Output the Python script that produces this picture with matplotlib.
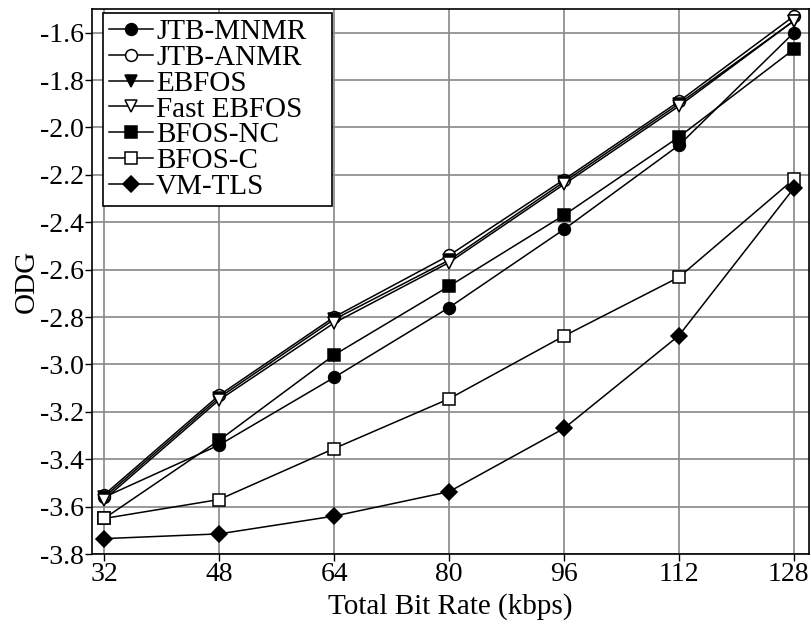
import matplotlib
matplotlib.use("Agg")
import matplotlib.pyplot as plt
import matplotlib.transforms as mtransforms
from matplotlib.patches import Rectangle

rates = [32, 48, 64, 80, 96, 112, 128]
jtb_mnmr = [-3.56, -3.34, -3.055, -2.76, -2.43, -2.075, -1.60]
jtb_anmr = [-3.55, -3.13, -2.80, -2.54, -2.22, -1.89, -1.53]
ebfos = [-3.56, -3.14, -2.81, -2.56, -2.23, -1.90, -1.55]
fast_ebfos = [-3.57, -3.15, -2.825, -2.57, -2.24, -1.91, -1.55]
bfos_nc = [-3.65, -3.32, -2.96, -2.67, -2.37, -2.04, -1.67]
bfos_c = [-3.65, -3.57, -3.355, -3.145, -2.88, -2.632, -2.218]
vm_tls = [-3.735, -3.715, -3.64, -3.537, -3.27, -2.878, -2.256]

plt.rcParams['font.family'] = ['Liberation Serif', 'DejaVu Serif']

fig = plt.figure(figsize=(8.11, 6.28), dpi=100)
ax = fig.add_axes([0.1134, 0.1178, 0.8841, 0.8679])

series = [
    (jtb_mnmr, 'o', 'black', 'JTB-MNMR'),
    (jtb_anmr, 'o', 'white', 'JTB-ANMR'),
    (ebfos, 'v', 'black', 'EBFOS'),
    (fast_ebfos, 'v', 'white', 'Fast EBFOS'),
    (bfos_nc, 's', 'black', 'BFOS-NC'),
    (bfos_c, 's', 'white', 'BFOS-C'),
    (vm_tls, 'D', 'black', 'VM-TLS'),
]
for vals, mk, fc, lab in series:
    ms = 8.5 if mk != 'D' else 8
    ax.plot(rates, vals, color='black', lw=1.1, marker=mk, ms=ms,
            mfc=fc, mec='black', mew=1.1, label=lab)

ax.set_xlim(30.3, 130.1)
ax.set_ylim(-3.8, -1.5)
ax.set_xticks(rates)
ax.set_yticks([-1.6, -1.8, -2.0, -2.2, -2.4, -2.6, -2.8, -3.0, -3.2, -3.4, -3.6, -3.8])
ax.set_yticklabels(['-1.6', '-1.8', '-2.0', '-2.2', '-2.4', '-2.6', '-2.8',
                    '-3.0', '-3.2', '-3.4', '-3.6', '-3.8'])
ax.tick_params(labelsize=20, length=5, width=1, pad=1)
ax.grid(True, color='#888888', lw=1.2)
ax.set_axisbelow(True)
for s in ax.spines.values():
    s.set_linewidth(1.2)

# last x tick label sits a bit left so it stays inside the figure
lbl = ax.get_xticklabels()[-1]
lbl.set_transform(lbl.get_transform() + mtransforms.ScaledTranslation(-6 / 100, 0, fig.dpi_scale_trans))

ax.set_xlabel('Total Bit Rate (kbps)', fontsize=21, labelpad=4)
ax.set_ylabel('ODG', fontsize=21, labelpad=0)

leg = ax.legend(loc='upper left', bbox_to_anchor=(0.0155, 0.993), fontsize=21,
                frameon=False, handlelength=1.5, handletextpad=0.12,
                labelspacing=-0.02, borderpad=0.2, borderaxespad=0.0)
leg.set_zorder(5)

# legend box with some extra room on the right, like the original
fig.canvas.draw()
bb = leg.get_window_extent()
box = Rectangle((bb.x0, bb.y0), bb.width + 20, bb.height, transform=None,
                facecolor='white', edgecolor='black', lw=1.2, zorder=4)
ax.add_artist(box)

plt.savefig('out.png', dpi=100)
